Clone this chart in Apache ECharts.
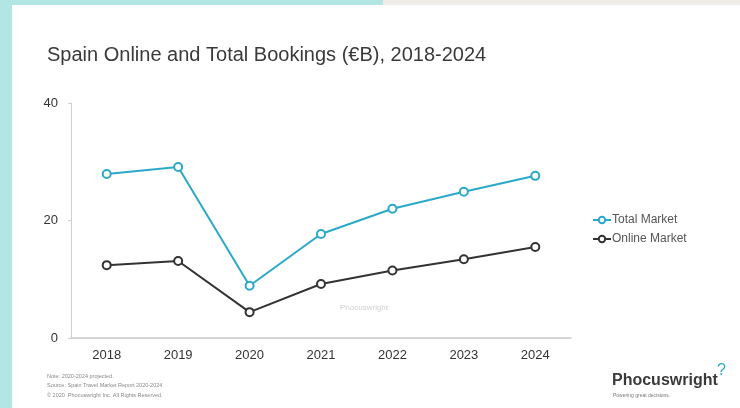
<!DOCTYPE html>
<html><head><meta charset="utf-8">
<script src="https://cdn.jsdelivr.net/npm/echarts@6/dist/echarts.min.js"></script>
<style>html,body{margin:0;padding:0;background:#fff}#c{width:740px;height:408px}</style>
</head><body><div id="c"></div>
<script>
const years = ['2018','2019','2020','2021','2022','2023','2024'];
const totalMarket = [27.9, 29.1, 8.9, 17.7, 22.0, 24.9, 27.6];
const onlineMarket = [12.4, 13.1, 4.4, 9.2, 11.5, 13.4, 15.5];
const yTicks = [0, 20, 40];

const chart = echarts.init(document.getElementById('c'), null, {renderer:'canvas'});
chart.setOption({
  animation: false,
  backgroundColor: '#ffffff',
  title: {
    text: 'Spain Online and Total Bookings (€B), 2018-2024',
    left: 42, top: 40,
    textStyle: {fontFamily: 'Liberation Sans, Arial, sans-serif', fontSize: 20, fontWeight: 'normal', color: '#3a3a3a'}
  },
  legend: {
    orient: 'vertical', left: 587, top: 209, itemGap: 7,
    itemWidth: 18, itemHeight: 8,
    textStyle: {fontFamily: 'Liberation Sans, Arial, sans-serif', fontSize: 12, color: '#555', padding: [0,0,0,-4]},
    data: ['Total Market', 'Online Market']
  },
  grid: {left: 71, right: 169, top: 103, bottom: 70},
  xAxis: {
    type: 'category', data: years, boundaryGap: true,
    axisLine: {lineStyle: {color: '#c8c8c8', width: 1.5}},
    axisTick: {show: false},
    axisLabel: {fontFamily: 'Liberation Sans, Arial, sans-serif', fontSize: 13, color: '#333', margin: 11}
  },
  yAxis: {
    type: 'value', min: yTicks[0], max: yTicks[yTicks.length-1], interval: 20,
    axisLine: {show: true, lineStyle: {color: '#d0d0d0', width: 1}},
    axisTick: {show: true, length: 3, lineStyle: {color: '#d0d0d0'}},
    splitLine: {show: false},
    axisLabel: {fontFamily: 'Liberation Sans, Arial, sans-serif', fontSize: 13, color: '#333', margin: 13}
  },
  series: [
    {name: 'Total Market', type: 'line', data: totalMarket, symbol: 'emptyCircle', symbolSize: 8,
     lineStyle: {color: '#2aa9c9', width: 2}, itemStyle: {color: '#2aa9c9', borderWidth: 2}},
    {name: 'Online Market', type: 'line', data: onlineMarket, symbol: 'emptyCircle', symbolSize: 8,
     lineStyle: {color: '#333333', width: 2}, itemStyle: {color: '#333333', borderWidth: 2}}
  ],
  graphic: [
    {type: 'rect', left: 0, top: 0, shape: {width: 12, height: 408}, style: {fill: '#b1e6e4'}, silent: true},
    {type: 'rect', left: 0, top: 0, shape: {width: 383, height: 5}, style: {fill: '#b1e6e4'}, silent: true},
    {type: 'rect', left: 383, top: 0, shape: {width: 357, height: 5}, style: {fill: '#f0ece8'}, silent: true},
    {type: 'text', left: 340, top: 304, style: {text: 'Phocuswright', fontFamily: 'Liberation Sans, sans-serif', fontSize: 8, fill: '#d0d0d0'}, silent: true},
    {type: 'text', left: 47, top: 373, style: {text: 'Note: 2020-2024 projected.', fontFamily: 'Liberation Sans, sans-serif', fontSize: 5.5, fill: '#888'}, silent: true},
    {type: 'text', left: 47, top: 382, style: {text: 'Source: Spain Travel Market Report 2020-2024', fontFamily: 'Liberation Sans, sans-serif', fontSize: 5.5, fill: '#888'}, silent: true},
    {type: 'text', left: 47, top: 392, style: {text: '© 2020  Phocuswright Inc. All Rights Reserved.', fontFamily: 'Liberation Sans, sans-serif', fontSize: 5.5, fill: '#888'}, silent: true},
    {type: 'text', left: 612, top: 373, style: {text: 'Phocuswright', fontFamily: 'Liberation Sans, Arial, sans-serif', fontSize: 16, fontWeight: 'bold', fill: '#3a3a3a'}, silent: true},
    {type: 'text', left: 717, top: 363, style: {text: '?', fontFamily: 'Liberation Sans, sans-serif', fontSize: 16, fill: '#2aa9c9'}, silent: true},
    {type: 'text', left: 613, top: 393, style: {text: 'Powering great decisions.', fontFamily: 'Liberation Sans, sans-serif', fontSize: 5, fill: '#777'}, silent: true}
  ]
});
</script></body></html>
